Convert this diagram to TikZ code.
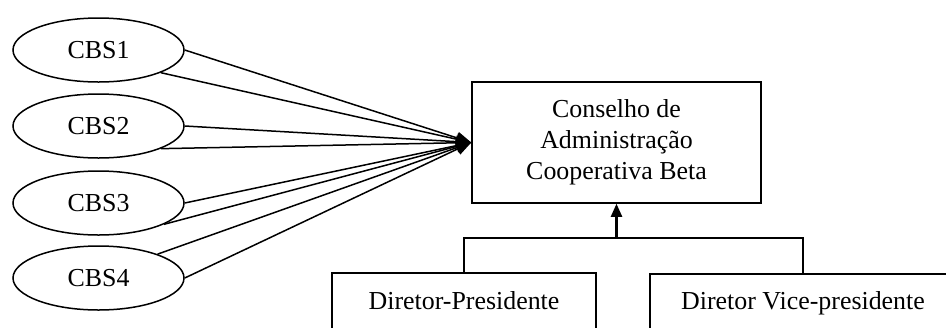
\documentclass[tikz,border=0pt]{standalone}
\usepackage{fontspec}
\setmainfont{Liberation Serif}
\usetikzlibrary{shapes.geometric,arrows.meta}
\begin{document}
\begin{tikzpicture}[x=1bp,y=-1bp,
  every node/.style={font=\fontsize{26}{31}\selectfont},
  line/.style={draw=black,line width=1.5bp},
  arrow/.style={line,-{Triangle[length=15bp,width=12bp]}},
  cbs/.style={ellipse,line,minimum width=171bp,minimum height=64bp,inner sep=0pt},
  unit/.style={rectangle,line,inner sep=0pt}]
\clip (0,0) rectangle (946,327);
\fill[white] (0,0) rectangle (946,327);

% cooperatives
\node[cbs] (c1) at (98.5,50)  {CBS1};
\node[cbs] (c2) at (98.5,126) {CBS2};
\node[cbs] (c3) at (98.5,203) {CBS3};
\node[cbs] (c4) at (98.5,278) {CBS4};

% board
\node[unit,minimum width=289bp,minimum height=121bp,align=center]
  (cons) at (616.5,142.5) {Conselho de\\Administração\\Cooperativa Beta};

% directors
\node[unit,minimum width=264bp,minimum height=56bp] (pres) at (464,301) {Diretor-Presidente};
\node[unit,minimum width=320bp,minimum height=56bp,anchor=north west] (vp) at (649,273) {};
\path (pres.base) ++(339,0) node[anchor=base] (vptext) {Diretor Vice-presidente};

% links from the cooperatives to the board
\draw[arrow] (c1.east) -- (cons.west);
\draw[arrow] (c1.-20) -- (cons.west);
\draw[arrow] (c2.east) -- (cons.west);
\draw[arrow] (c2.-20) -- (cons.west);
\draw[arrow] (c3.east) -- (cons.west);
\draw[arrow] (c3.-18) -- (cons.west);
\draw[arrow] (c4.22) -- (cons.west);
\draw[arrow] (c4.east) -- (cons.west);

% directors report to the board
\coordinate (j) at (616.5,238);
\draw[line] (pres.north) |- (j);
\draw[line] (vptext |- vp.north) |- (j);
\draw[line,line width=2.2bp,-{Triangle[length=13bp,width=11bp]}] (j) -- (cons.south);
\end{tikzpicture}
\end{document}
